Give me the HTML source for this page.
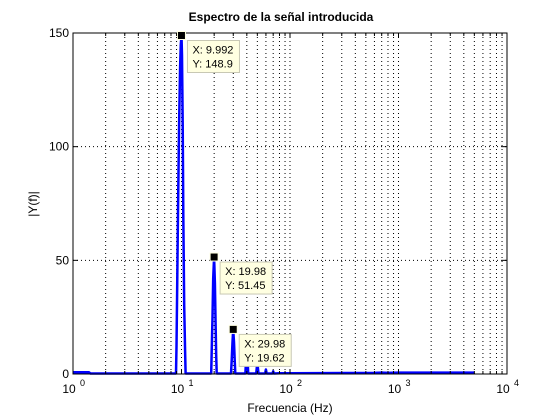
<!DOCTYPE html>
<html><head><meta charset="utf-8"><style>
body{margin:0;background:#fff;}
svg{display:block;font-family:"Liberation Sans",sans-serif;}
</style></head><body>
<svg id="chart" width="560" height="420" viewBox="0 0 560 420">
<rect x="0" y="0" width="560" height="420" fill="#fff"/>
<rect x="73" y="33" width="434" height="341" fill="#fff"/>
<g id="grid"></g>
<g id="series"></g>
<rect x="73" y="33" width="434" height="341" fill="none" stroke="#000" stroke-width="1"/>
<g id="ticks"></g>
<g id="tips"></g>
<text x="281" y="21" text-anchor="middle" font-size="12" font-weight="bold">Espectro de la señal introducida</text>
<text x="290" y="412" text-anchor="middle" font-size="12">Frecuencia (Hz)</text>
<text transform="translate(37,204) rotate(-90)" text-anchor="middle" font-size="12">|Y(f)|</text>
</svg>
<script>
const xDecades = [0, 1, 2, 3, 4];
const yTicks = [0, 50, 100, 150];
const freqs = [1, 1.05, 1.4, 1.45, 2, 8.9, 9.0, 9.1, 9.3, 9.5, 9.7, 9.85, 9.992, 10.1, 10.25, 10.4, 10.6, 10.8, 10.9,
  12, 18.8, 19.0, 19.3, 19.6, 19.98, 20.3, 20.6, 20.9, 21.1, 25, 28.6, 29.0, 29.5, 29.98, 30.5, 31, 31.3,
  35, 38.8, 39.5, 40, 40.5, 41.2, 45, 48.8, 50, 51.2, 55, 59, 60, 61, 65, 69, 70, 71, 80, 100, 600, 700, 800, 1000, 5000];
const mags = [0.8, 0.8, 0.8, 0.2, 0.2, 0.2, 12, 35, 75, 110, 135, 145, 148.9, 140, 110, 70, 30, 10, 0.2,
  0.2, 0.2, 10, 25, 42, 51.45, 40, 22, 8, 0.2, 0.2, 0.2, 6, 14, 19.62, 14, 5, 0.2,
  0.2, 0.2, 8, 12.5, 8, 0.2, 0.2, 0.2, 5, 0.2, 0.2, 0.2, 2, 0.2, 0.2, 0.2, 1.2, 0.2, 0.3, 0.3, 0.5, 0.6, 0.5, 0.6, 0.6];
const tipX = [9.992, 19.98, 29.98];
const tipY = [148.9, 51.45, 19.62];
const NS = "http://www.w3.org/2000/svg";
const L = 73, R = 507, T = 33, B = 374;
function xs(f){ return L + (Math.log10(f) - 0) / 4 * (R - L); }
function ys(v){ return B - v / 150 * (B - T); }
function mk(tag, attrs, parent){ const e = document.createElementNS(NS, tag); for (const k in attrs) e.setAttribute(k, attrs[k]); parent.appendChild(e); return e; }
const grid = document.getElementById('grid'), ticks = document.getElementById('ticks');
for (let d = 0; d < 4; d++) {
  for (let m = 1; m <= 9; m++) {
    const x = xs(Math.pow(10, d) * m);
    if (!(d === 0 && m === 1)) {
      const g = mk('line', {x1:x, x2:x, y1:T, y2:B, stroke:'#000', 'stroke-width':1, 'stroke-dasharray':'1,3'}, grid);
      
      
    }
    const len = m === 1 ? 5 : 3;
    mk('line', {x1:x, x2:x, y1:B, y2:B - len, stroke:'#000'}, ticks);
    mk('line', {x1:x, x2:x, y1:T, y2:T + len, stroke:'#000'}, ticks);
  }
}
xDecades.forEach(d => {
  const x = xs(Math.pow(10, d));
  const t = mk('text', {x:x - 4, y:393, 'text-anchor':'middle', 'font-size':12}, ticks);
  t.textContent = '10';
  
  
  const s = mk('text', {x:x + 7, y:386, 'text-anchor':'start', 'font-size':9}, ticks);
  s.textContent = String(d);
  
  
});
yTicks.forEach(v => {
  const y = ys(v);
  if (v > 0 && v < 150) {
    const g = mk('line', {x1:L, x2:R, y1:y, y2:y, stroke:'#000', 'stroke-dasharray':'1,3'}, grid);
    
    
  }
  mk('line', {x1:L, x2:L + 5, y1:y, y2:y, stroke:'#000'}, ticks);
  mk('line', {x1:R, x2:R - 5, y1:y, y2:y, stroke:'#000'}, ticks);
  const t = mk('text', {x:L - 4, y:y + 4, 'text-anchor':'end', 'font-size':12}, ticks);
  t.textContent = String(v);
  
  
});
const pts = freqs.map((f, i) => xs(f).toFixed(1) + ',' + ys(mags[i]).toFixed(1)).join(' ');
const line = mk('polyline', {points:pts, fill:'none', stroke:'#0000ff', 'stroke-width':2.5, 'stroke-linejoin':'round'}, document.getElementById('series'));


const tips = document.getElementById('tips');
tipX.forEach((f, i) => {
  const x = xs(f), y = ys(tipY[i]);
  const box = mk('rect', {x:x + 6, y:y + 5, width:52, height:32, fill:'#ffffe1', stroke:'#c8c8b4'}, tips);
  
  
  const t1 = mk('text', {x:x + 11, y:y + 18, 'font-size':11}, tips);
  t1.textContent = 'X: ' + f;
  
  
  const t2 = mk('text', {x:x + 11, y:y + 32, 'font-size':11}, tips);
  t2.textContent = 'Y: ' + tipY[i];
  
  
  const mkr = mk('rect', {x:x - 4, y:y - 4, width:8, height:8, fill:'#000', stroke:'#ffffe1', 'stroke-width':1}, tips);
  
  
});
</script>
</body></html>
